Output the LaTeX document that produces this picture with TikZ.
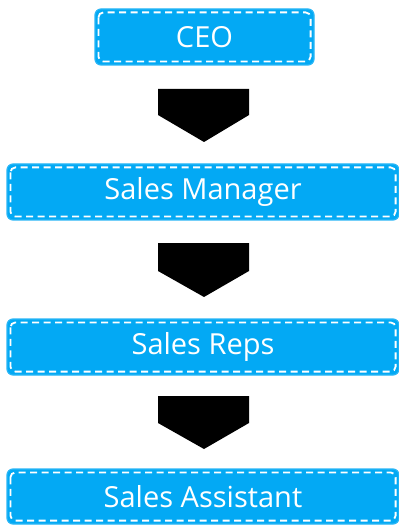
\documentclass[tikz,border=0pt]{standalone}
\usepackage{fontspec}
\setmainfont{Open Sans}
\definecolor{boxblue}{HTML}{03A9F4}
\definecolor{boxedge}{HTML}{29B6F6}
\begin{document}
\begin{tikzpicture}[x=1pt,y=-1pt,
  orgbox/.style={rectangle, rounded corners=6pt, fill=boxblue, draw=boxedge, line width=1.2pt,
    text=white, font=\fontsize{29}{34}\selectfont, minimum height=56pt, inner sep=0pt},
  innerdash/.style={draw=white, line width=1.8pt, dash pattern=on 7pt off 4.5pt, rounded corners=5pt},
  downarrow/.style={fill=black, draw=none}]
\useasboundingbox (0,0) rectangle (398,526);
\node[orgbox, minimum width=219pt] (ceo) at (204.5,37) {CEO};
\node[orgbox, minimum width=392pt] (sm) at (203,192) {Sales Manager};
\node[orgbox, minimum width=392pt] (sr) at (203,347) {Sales Reps};
\node[orgbox, minimum width=392pt, minimum height=55pt] (sa) at (203,496.5) {Sales Assistant};
\foreach \n in {ceo,sm,sr,sa}{
  \draw[innerdash] ([shift={(4pt,-4pt)}]\n.north west) rectangle ([shift={(-4pt,4pt)}]\n.south east);
}
\fill[downarrow] (158,89) -- (249,89) -- (249,115) -- (204,142) -- (158,115) -- cycle;
\fill[downarrow] (158,243) -- (249,243) -- (249,271) -- (204,297) -- (158,271) -- cycle;
\fill[downarrow] (158,396) -- (249,396) -- (249,423) -- (204,449) -- (158,423) -- cycle;
\end{tikzpicture}
\end{document}
